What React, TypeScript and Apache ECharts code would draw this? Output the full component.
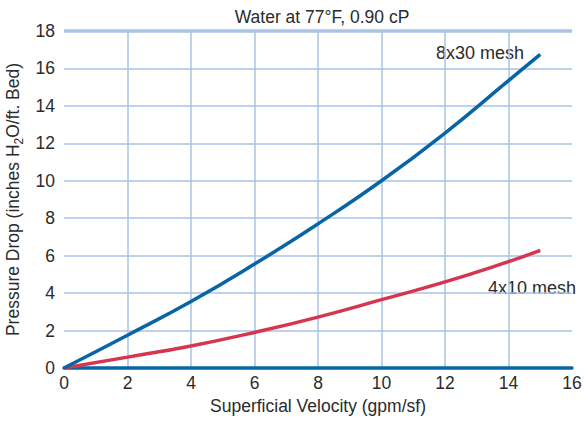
import React, { useEffect, useRef } from "react";
import * as echarts from "echarts";

const xTicks = [0, 2, 4, 6, 8, 10, 12, 14, 16];
const yTicks = [0, 2, 4, 6, 8, 10, 12, 14, 16, 18];
const velocity = [0, 2, 4, 6, 8, 10, 12, 14, 15];
const mesh8x30 = [0, 1.75, 3.55, 5.55, 7.7, 10.0, 12.55, 15.35, 16.75];
const mesh4x10 = [0, 0.58, 1.18, 1.9, 2.72, 3.65, 4.6, 5.68, 6.28];
const seriesNames = ["8x30 mesh", "4x10 mesh"];

const FONT = "'Liberation Sans', Arial, sans-serif";
const FS = 17.5;
const TEXT = "#2b2b2b";
const GRID_COLOR = "#a9c3e4";
const BLUE = "#0765a6";
const RED = "#d63550";

export default function App() {
  const ref = useRef<HTMLDivElement>(null);
  useEffect(() => {
    document.body.style.margin = "0";
    if (!ref.current) return;
    const chart = echarts.init(ref.current, null, { renderer: "svg" });
    const toPairs = (ys: number[]) => velocity.map((x, i) => [x, ys[i]]);
    chart.setOption({
      animation: false,
      textStyle: { fontFamily: FONT },
      title: {
        text: "Water at 77°F, 0.90 cP",
        left: 317,
        textAlign: "center",
        top: 3,
        textStyle: { fontFamily: FONT, fontSize: FS, fontWeight: "normal", color: TEXT },
      },
      grid: { left: 64, right: 12, top: 31, bottom: 54, containLabel: false, outerBoundsMode: "none" },
      xAxis: {
        type: "value",
        min: xTicks[0],
        max: xTicks[xTicks.length - 1],
        interval: 2,
        name: "Superficial Velocity (gpm/sf)",
        nameLocation: "middle",
        nameGap: 28,
        nameTextStyle: { fontFamily: FONT, fontSize: FS, color: TEXT },
        axisLine: { show: true, lineStyle: { color: BLUE, width: 3.5 } },
        axisTick: { show: false },
        axisLabel: { fontFamily: FONT, fontSize: FS, color: TEXT, margin: 6 },
        splitLine: { show: true, showMinLine: false, showMaxLine: false, lineStyle: { color: GRID_COLOR, width: 1.5 } },
      },
      yAxis: {
        type: "value",
        min: yTicks[0],
        max: yTicks[yTicks.length - 1],
        interval: 2,
        name: "{a|Pressure Drop (inches H}{s|2}{a|O/ft. Bed)}",
        nameLocation: "middle",
        nameGap: 35,
        nameRotate: 90,
        nameTextStyle: {
          fontFamily: FONT,
          color: TEXT,
          rich: {
            a: { fontFamily: FONT, fontSize: FS, color: TEXT, lineHeight: 22 },
            s: { fontFamily: FONT, fontSize: 12, color: TEXT, lineHeight: 22, padding: [12, 0, 0, 0] },
          },
        },
        axisLine: { show: false },
        axisTick: { show: false },
        axisLabel: { fontFamily: FONT, fontSize: FS, color: TEXT, margin: 9 },
        splitLine: { show: true, showMaxLine: false, lineStyle: { color: GRID_COLOR, width: 1.5 } },
      },
      series: [
        {
          name: seriesNames[0],
          type: "line",
          smooth: true,
          showSymbol: false,
          data: toPairs(mesh8x30),
          lineStyle: { color: BLUE, width: 3.5 },
          z: 3,
          markLine: {
            silent: true,
            symbol: "none",
            label: { show: false },
            lineStyle: { color: GRID_COLOR, width: 3.5, type: "solid" },
            data: [{ yAxis: yTicks[yTicks.length - 1] }],
          },
        },
        {
          name: seriesNames[1],
          type: "line",
          smooth: true,
          showSymbol: false,
          data: toPairs(mesh4x10),
          lineStyle: { color: RED, width: 3.5 },
          z: 2,
        },
      ],
      graphic: [
        {
          type: "text",
          x: 480,
          y: 53,
          style: { text: seriesNames[0], fontFamily: FONT, fontSize: 18, fill: TEXT, align: "center", verticalAlign: "middle" },
        },
        {
          type: "text",
          x: 532,
          y: 288,
          style: { text: seriesNames[1], fontFamily: FONT, fontSize: 18, fill: TEXT, align: "center", verticalAlign: "middle" },
        },
      ],
    });
    return () => chart.dispose();
  }, []);
  return <div ref={ref} style={{ width: 584, height: 422 }} />;
}
